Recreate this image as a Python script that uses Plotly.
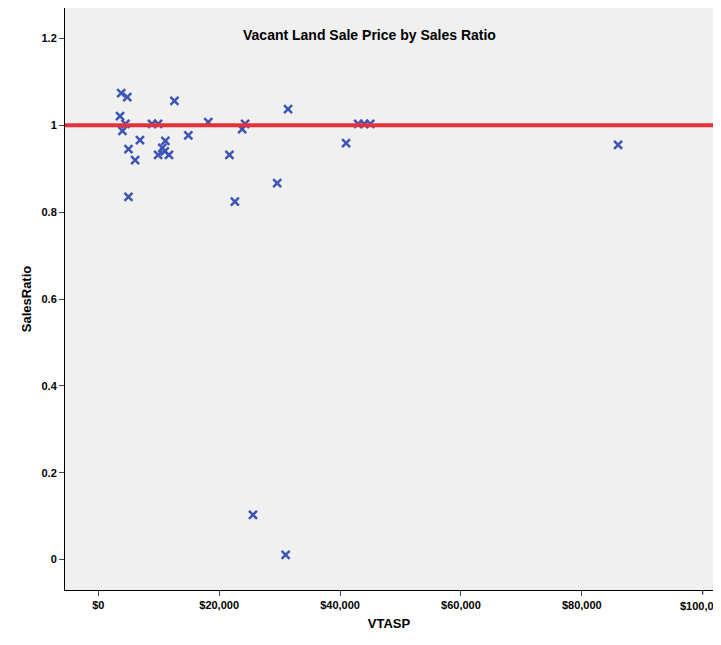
import plotly.graph_objects as go

vtasp = [3800,4800,12600,3600,4500,4000,8900,9900,18200,24300,23800,31400,43000,44000,45000,41000,14900,6900,5000,6100,11100,10600,9900,11700,11000,21700,29600,5000,22600,86000,25600,31000]
ratio = [1.074,1.065,1.056,1.021,1.003,0.987,1.003,1.003,1.007,1.003,0.991,1.037,1.003,1.003,1.003,0.959,0.977,0.966,0.945,0.92,0.964,0.948,0.932,0.932,0.94,0.932,0.867,0.835,0.824,0.955,0.103,0.011]
yticks = [0,0.2,0.4,0.6,0.8,1,1.2]
ylabels = ["0","0.2","0.4","0.6","0.8","1","1.2"]
xticks = [0,20000,40000,60000,80000,100000]
xlabels = ["$0","$20,000","$40,000","$60,000","$80,000","$100,000"]

fig = go.Figure()
fig.add_trace(go.Scatter(x=vtasp, y=ratio, mode="markers", cliponaxis=False,
    marker=dict(symbol="x-thin", size=8, line=dict(width=2.5, color="#3c55b4"), color="#3c55b4")))
fig.add_hline(y=1, line=dict(color="#e8303a", width=4))
fig.update_layout(width=705, height=629, margin=dict(l=57, r=0, t=0, b=47, autoexpand=False),
    plot_bgcolor="#f0f0f0", paper_bgcolor="white", showlegend=False,
    font=dict(family="Liberation Sans, Arial", color="black", size=11),
    annotations=[dict(text="<b>Vacant Land Sale Price by Sales Ratio</b>", x=0.47, y=0.97, xref="paper", yref="paper",
                      showarrow=False, font=dict(size=14)),
                 dict(text="<b>%s</b>" % xlabels[-1], x=xticks[-1], xref="x", y=0, yref="paper", yshift=-8,
                      yanchor="top", showarrow=False, font=dict(size=11))])
fig.update_xaxes(range=[-5500, 101700], tickvals=xticks[:-1] , ticktext=["<b>%s</b>" % t for t in xlabels[:-1]],
    showgrid=False, zeroline=False, showline=True, linecolor="black", ticks="outside", ticklen=5, automargin=False,
    title=dict(text="<b>VTASP</b>", font=dict(size=13), standoff=8), tickfont=dict(size=11))
fig.add_shape(type="line", x0=xticks[-1], x1=xticks[-1], y0=0, y1=-0.008, xref="x", yref="paper",
              line=dict(color="black", width=1))
fig.update_yaxes(range=[-0.07, 1.27], tickvals=yticks, ticktext=["<b>%s</b>" % t for t in ylabels],
    showgrid=False, zeroline=False, showline=True, linecolor="black", ticks="outside", ticklen=5, automargin=False,
    title=dict(text="<b>SalesRatio</b>", font=dict(size=13), standoff=6), tickfont=dict(size=11))
fig.write_html("out.html")
